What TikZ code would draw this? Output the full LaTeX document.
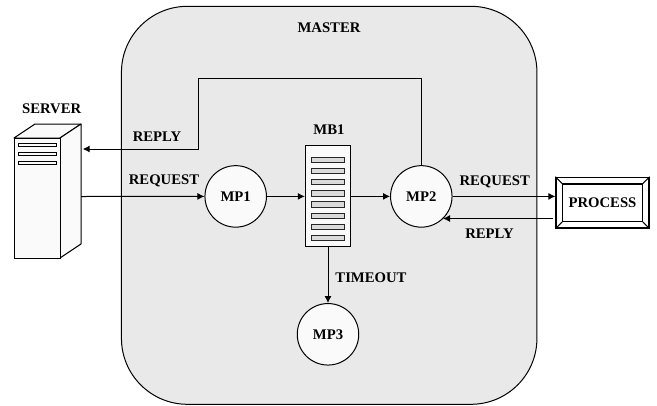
\documentclass[tikz,border=0pt]{standalone}
\usepackage{fontspec}
\setmainfont{Liberation Serif}
\usetikzlibrary{arrows.meta}
\tikzset{
 lbl/.style={inner sep=0pt,font=\fontsize{14.7}{16}\selectfont\bfseries},
 mpnode/.style={circle,draw=black,line width=1pt,fill=gray!4,minimum size=61.5pt,inner sep=0pt,font=\fontsize{14.7}{16}\selectfont\bfseries},
 boxnode/.style={rectangle,draw=black,line width=1pt,inner sep=0pt},
 conn/.style={draw=black,line width=1pt,-{Latex[length=7pt,width=7pt]}},
 slot/.style={rectangle,draw=black!85,line width=0.9pt,fill=gray!28,minimum width=33.5pt,minimum height=5.4pt,inner sep=0pt}
}
\begin{document}
\begin{tikzpicture}[x=1pt,y=-1pt]
\useasboundingbox (0,0) rectangle (657,405);
% master
\node[rectangle,draw=black,line width=1pt,fill=gray!17,rounded corners=66pt,minimum width=415.5pt,minimum height=398pt,inner sep=0pt] (master) at (329.2,205.3) {};
\node[lbl] (mastert) at (329,28) {MASTER};
% server
\draw[fill=gray!4,line width=1pt,line join=round] (14,138)--(35,124)--(81,124)--(60,138)--cycle;
\draw[fill=gray!4,line width=1pt,line join=round] (60,138)--(81,124)--(81,244)--(60,258)--cycle;
\node[boxnode,fill=gray!4,minimum width=46pt,minimum height=120pt] (server) at (37,198) {};
\foreach \y in {145,153.8,162.5}{\draw[line width=1pt,fill=gray!4] (18,\y-1.5) rectangle (56,\y+1.5);}
\node[lbl] (servert) at (51.7,109) {SERVER};
\coordinate (srvreply) at (82.7,149);
\coordinate (srvreq) at (81,196.5);
% MB1
\node[boxnode,fill=gray!4,minimum width=45pt,minimum height=100.7pt] (mb) at (327.8,195.7) {};
\foreach \i in {0,...,7}{\node[slot] (s\i) at (327.7,159.7+\i*11.2) {};}
\node[lbl] (mbt) at (329,130) {MB1};
% circles
\node[mpnode] (mp1) at (235.7,196.4) {MP1};
\node[mpnode] (mp2) at (421.3,196.4) {MP2};
\node[mpnode] (mp3) at (328,334.3) {MP3};
% process
\node[boxnode,fill=white,line width=1.2pt,minimum width=93pt,minimum height=50.7pt] (proc) at (602.5,202.7) {};
\node[boxnode,fill=white,line width=1.2pt,minimum width=79.5pt,minimum height=37.3pt,font=\fontsize{14.7}{16}\selectfont\bfseries] (proci) at (602.5,202.7) {PROCESS};
\foreach \a in {north west,north east,south west,south east}{\draw[line width=1pt] (proc.\a)--(proci.\a);}
% connectors
\draw[conn] (mp2.north) -- (mp2.north |- 0,78) -- (198.3,78) -- (198.3,149) -- (srvreply);
\draw[conn] (srvreq) -- (mp1.west);
\draw[conn] (mp1.east) -- (mb.west |- mp1.east);
\draw[conn] (mb.east |- mp2.west) -- (mp2.west);
\draw[conn] (mp2.east) -- (proc.west |- mp2.east);
\coordinate (procout) at (552.7,218.5);
\coordinate (mp2in) at (443,218.5);
\draw[conn] (procout) -- (mp2in);
\draw[conn] (mp3.north |- mb.south) -- (mp3.north);
% labels
\node[lbl] (l1) at (157,137) {REPLY};
\node[lbl] (l2) at (164,180.7) {REQUEST};
\node[lbl] (l3) at (494.7,181.7) {REQUEST};
\node[lbl] (l4) at (489.5,233.5) {REPLY};
\node[lbl] (l5) at (371,277.7) {TIMEOUT};
\end{tikzpicture}
\end{document}
